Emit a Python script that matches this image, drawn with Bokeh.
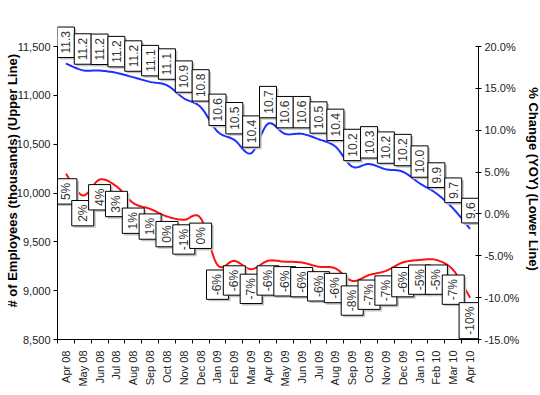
import numpy as np
from bokeh.plotting import figure
from bokeh.models import (Range1d, LinearAxis, FixedTicker, NumeralTickFormatter,
                          PrintfTickFormatter, ColumnDataSource)
from bokeh.core.properties import value
from bokeh.embed import file_html
from bokeh.resources import INLINE

months = ["Apr 08", "May 08", "Jun 08", "Jul 08", "Aug 08", "Sep 08", "Oct 08", "Nov 08",
          "Dec 08", "Jan 09", "Feb 09", "Mar 09", "Apr 09", "May 09", "Jun 09", "Jul 09",
          "Aug 09", "Sep 09", "Oct 09", "Nov 09", "Dec 09", "Jan 10", "Feb 10", "Mar 10",
          "Apr 10"]

employees = [11326, 11257, 11254, 11230, 11185, 11138, 11103, 10970, 10880, 10630, 10544,
             10407, 10709, 10606, 10606, 10551, 10476, 10270, 10297, 10243, 10218, 10100,
             9995, 9840, 9632]
employee_labels = ["11.3", "11.2", "11.2", "11.2", "11.2", "11.1", "11.1", "10.9", "10.8",
                   "10.6", "10.5", "10.4", "10.7", "10.6", "10.6", "10.5", "10.4", "10.2",
                   "10.3", "10.2", "10.2", "10.0", "9.9", "9.7", "9.6"]

yoy_change = [4.8, 2.2, 4.1, 3.3, 1.3, 0.6, -0.3, -0.7, -0.5, -6.1, -5.6, -6.6, -5.6, -5.7,
              -5.8, -6.3, -6.5, -8.0, -7.3, -6.8, -5.8, -5.5, -5.5, -6.7, -10.0]
yoy_labels = ["5%", "2%", "4%", "3%", "1%", "1%", "0%", "-1%", "0%", "-6%", "-6%", "-7%",
              "-6%", "-6%", "-6%", "-6%", "-6%", "-8%", "-7%", "-7%", "-6%", "-5%", "-5%",
              "-7%", "-10%"]

left_ticks = [8500, 9000, 9500, 10000, 10500, 11000, 11500]
right_ticks = [-15, -10, -5, 0, 5, 10, 15, 20]

left_title = "# of Employees  (thousands) (Upper Line)"
right_title = "% Change (YOY) (Lower Line)"

FONT = "Liberation Sans"
n = len(months)
xs = list(range(1, n + 1))

# frame geometry: axis spans 293 px; extra headroom above for labels
AX_H = 293
EXTRA = 28
TOP = 18
left_end = 11500 + EXTRA * 3000 / AX_H
right_end = 20 + EXTRA * 35 / AX_H


def smooth(x, y, steps=12):
    """Bezier smoothing (Excel-like) through the given points, for drawing only."""
    x = np.asarray(x, float)
    y = np.asarray(y, float)
    m = len(x)
    ox, oy = [], []
    for i in range(m - 1):
        i0, i3 = max(i - 1, 0), min(i + 2, m - 1)
        p0 = np.array([x[i0], y[i0]]); p1 = np.array([x[i], y[i]])
        p2 = np.array([x[i + 1], y[i + 1]]); p3 = np.array([x[i3], y[i3]])
        c1 = p1 + (p2 - p0) / 6.0
        c2 = p2 - (p3 - p1) / 6.0
        ts = np.linspace(0, 1, steps, endpoint=(i == m - 2))
        for t in ts:
            b = ((1 - t) ** 3) * p1 + 3 * ((1 - t) ** 2) * t * c1 + 3 * (1 - t) * t * t * c2 + t ** 3 * p2
            ox.append(b[0]); oy.append(b[1])
    return ox, oy


p = figure(frame_width=421, frame_height=AX_H + EXTRA,
           min_border_left=57, min_border_right=60, min_border_top=TOP, min_border_bottom=48,
           x_range=Range1d(0.5, n + 0.5), y_range=Range1d(8500, left_end),
           output_backend="svg", toolbar_location=None, tools="",
           x_axis_type=None, y_axis_type=None)
p.outline_line_color = None
p.xgrid.visible = False
p.ygrid.visible = False
p.background_fill_color = "white"
p.border_fill_color = "white"
p.extra_y_ranges = {"pct": Range1d(-15, right_end)}

la = LinearAxis(ticker=FixedTicker(ticks=left_ticks), formatter=NumeralTickFormatter(format="0,0"),
                bounds=(8500, 11500), axis_label=left_title)
ra = LinearAxis(y_range_name="pct", ticker=FixedTicker(ticks=right_ticks),
                formatter=PrintfTickFormatter(format="%.1f%%"), bounds=(-15, 20),
                axis_label=right_title)
ba = LinearAxis(ticker=FixedTicker(ticks=xs, minor_ticks=[k + 0.5 for k in range(0, n + 1)]),
                major_label_overrides={x: m for x, m in zip(xs, months)},
                major_label_orientation=np.pi / 2)

for ax in (la, ra, ba):
    ax.axis_line_color = "black"
    ax.axis_line_width = 1
    ax.major_tick_line_color = "black"
    ax.minor_tick_line_color = None
    ax.major_label_text_font = FONT
    ax.major_label_text_font_size = "11px"
    ax.major_label_text_color = "#222222"
    ax.axis_label_text_font = FONT
    ax.axis_label_text_font_size = "13px"
    ax.axis_label_text_font_style = "bold"
    ax.axis_label_text_color = "black"

la.major_tick_in = 0
la.major_tick_out = 4
la.major_label_standoff = 3
la.axis_label_standoff = -6
ra.major_tick_in = 3
ra.major_tick_out = 3
ra.major_label_standoff = 3
ra.axis_label_standoff = 4
ba.major_tick_line_color = None
ba.major_tick_in = 0
ba.major_tick_out = 0
ba.minor_tick_line_color = "black"
ba.minor_tick_in = 0
ba.minor_tick_out = 4
ba.major_label_standoff = 7

p.add_layout(la, "left")
p.add_layout(ra, "right")
p.add_layout(ba, "below")

# lines (smoothed for drawing)
bx, by = smooth(xs, employees)
rx, ry = smooth(xs, yoy_change)
p.line(bx, by, line_color="#1f2fff", line_width=2)
p.line(rx, ry, line_color="#ff1010", line_width=2, y_range_name="pct")

# data labels
src_b = ColumnDataSource(dict(x=xs, y=employees, t=employee_labels))
src_r = ColumnDataSource(dict(x=xs, y=yoy_change, t=yoy_labels))

common = dict(text="t", angle=np.pi / 2, text_font=value(FONT), text_font_size="12px",
              padding=4)
p.text(x="x", y="y", source=src_b, anchor="center_left", x_offset=2, y_offset=-4,
       text_alpha=0, background_fill_color="#c4c4c4", border_line_color=None, **common)
p.text(x="x", y="y", source=src_b, anchor="center_left", x_offset=0, y_offset=-6,
       text_color="#333333", background_fill_color="white", border_line_color="black",
       border_line_width=1, **common)
p.text(x="x", y="y", source=src_r, anchor="center_right", x_offset=2, y_offset=7,
       text_alpha=0, background_fill_color="#c4c4c4", border_line_color=None,
       y_range_name="pct", **common)
p.text(x="x", y="y", source=src_r, anchor="center_right", x_offset=0, y_offset=5,
       text_color="#333333", background_fill_color="white", border_line_color="black",
       border_line_width=1, y_range_name="pct", **common)

open("out.html", "w").write(file_html(p, INLINE))
